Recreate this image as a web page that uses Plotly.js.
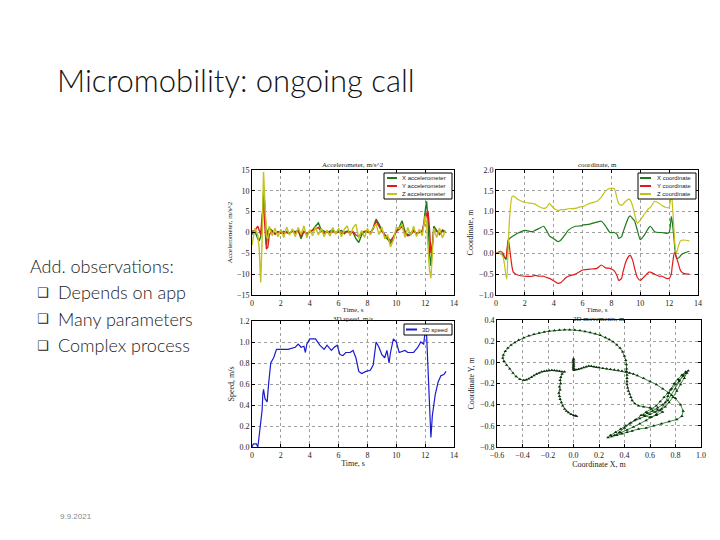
<!DOCTYPE html>
<html>
<head>
<meta charset="utf-8">
<script src="https://cdn.plot.ly/plotly-3.0.1.min.js"></script>
<style>html,body{margin:0;padding:0;background:#fff;}#chart{width:720px;height:540px;}</style>
</head>
<body>
<div id="chart"></div>
<script>
// ---------- Accelerometer (m/s^2) ----------
const accTime = [0,0.2,0.4,0.5,0.6,0.7,0.8,0.9,1.0,1.1, 1.2,1.4,1.6,1.8,2.0,2.2,2.4,2.6,2.8,3.0, 3.2,3.4,3.6,3.8,4.0,4.2,4.4,4.6,4.8,5.0, 5.2,5.4,5.6,5.8,6.0,6.2,6.4,6.6,6.8,7.0, 7.2,7.4,7.6,7.8,8.0,8.2,8.4,8.6,8.8,9.0, 9.2,9.4,9.6,9.8,10.0,10.2,10.4,10.6,10.8,11.0, 11.2,11.4,11.6,11.8,11.9,12.0,12.1,12.2,12.3,12.4, 12.5,12.6,12.8,13.0,13.2,13.4];
const accX = [-0.5,0.3,-1.5,-2,-1,1,10,6,-3,0.5, 1,0.5,-0.3,0.2,-0.2,0.3,0,-0.3,0.4,0.2, 0.5,-1.5,0.3,-0.5,0.2,0.6,1.5,2.3,0.6,0.3, 0,0.3,0.6,-0.2,0.2,0.5,-0.3,0.3,0.2,0, -1.5,-2.4,-0.6,0.2,0.3,-0.3,1.2,3.2,2,0.5, -0.8,-1.6,-2.6,-1.5,0.4,1.2,2.8,0.3,-0.6,-0.2, 0.5,-0.4,0.2,0.3,2,5,7.5,3,-5,-8, -2,1.5,0.5,-0.5,0.6,0.2];
const accY = [0.3,0.5,1.5,0.5,-0.5,4,7,1,-4,-3.5, -0.5,0.3,-0.4,0.2,0.1,-0.3,0.2,-0.2,0.3,-0.2, 0.4,-0.8,0.2,-0.3,0.1,0.4,0.8,1.2,0.3,-0.2, 0.3,-0.1,0.2,0,0.3,-0.2,0.1,0.3,-0.3,0.2, -0.6,-1,-0.2,0.3,0.2,0,0.8,2.8,1.5,0.2, -0.5,-1.2,-2,-1,0.2,0.8,1.5,-0.2,-0.8,-0.5, 0.3,-0.2,0,0.4,1.5,3,4.5,5,1,-5, -3,0.5,0.3,-0.4,0.3,0];
const accZ = [-3,1,-0.5,-4,-12,-2,14.5,6,-1,-1.5, 1.5,-0.8,1,-1,0.8,-1.2,1.3,-0.6,0.9,-1, 1.2,-0.5,1.6,-1.3,0.7,-0.8,1.4,-0.6,1,-1, 0.6,-0.9,1.2,-0.4,1,-1,0.8,1.6,-0.8,1.1, 2,-1.4,0.5,-1.2,1,-0.6,1.2,2,-0.5,1.3, -1.5,-0.5,-3.5,-1.8,1.2,1,2,-1.2,1.2,-0.8, 1.5,-1,0.8,-0.8,2,4,2,-4,-9,-11, -6,1,-1.2,1,-1.3,0.5];

// ---------- Coordinates (m) ----------
const coordTime = [0,0.3,0.5,0.6,0.7,0.75,0.85,0.95,1.1,1.2, 1.5,2.0,2.5,2.7,3.0,3.3,3.5,3.7,4.0,4.3, 4.5,4.8,5.0,5.5,5.9,6.0,6.5,7.0,7.3,7.6, 7.9,8.2,8.4,8.5,8.7,8.8,9.0,9.2,9.3,9.5, 9.6,9.8,10.0,10.3,10.6,10.7,11.0,11.3,11.5,11.8, 12.0,12.15,12.2,12.35,12.4,12.5,12.6,12.75,12.8,13.0, 13.4];
const coordX = [0,0.0,-0.05,-0.1,-0.15,-0.05,0.3,0.36,0.4,0.42, 0.48,0.55,0.52,0.55,0.6,0.65,0.55,0.42,0.35,0.28, 0.32,0.45,0.55,0.65,0.66,0.68,0.7,0.75,0.77,0.65, 0.5,0.5,0.45,0.36,0.4,0.5,0.7,0.87,0.9,0.82, 0.78,0.55,0.33,0.45,0.62,0.65,0.52,0.5,0.5,0.48, 0.5,0.88,0.8,0.3,0.1,-0.1,-0.12,-0.08,-0.05,0.0, 0.05];
const coordY = [0,0.05,0.0,-0.1,-0.1,0.05,0.35,0.1,-0.3,-0.45, -0.52,-0.55,-0.55,-0.53,-0.55,-0.55,-0.58,-0.6,-0.66,-0.72, -0.7,-0.6,-0.55,-0.5,-0.42,-0.4,-0.38,-0.36,-0.28,-0.35, -0.36,-0.42,-0.55,-0.65,-0.6,-0.45,-0.2,-0.07,-0.05,-0.2, -0.35,-0.58,-0.65,-0.55,-0.45,-0.45,-0.5,-0.55,-0.55,-0.6, -0.6,-0.5,-0.35,0.0,0.02,-0.1,-0.2,-0.38,-0.42,-0.48, -0.5];
const coordZ = [0,0.0,-0.1,-0.3,-0.55,-0.62,0.2,0.9,1.35,1.38, 1.3,1.22,1.2,1.18,1.12,1.08,1.1,1.2,1.08,1.03, 1.05,1.05,1.07,1.08,1.12,1.12,1.2,1.25,1.35,1.5, 1.56,1.55,1.3,1.2,1.15,1.18,1.25,1.3,1.28,1.1, 0.95,0.72,0.8,0.95,1.08,1.1,1.25,1.2,1.15,1.1, 1.1,1.45,1.3,0.5,0.2,0.0,0.12,0.28,0.3,0.32, 0.3];

// ---------- 3D speed (m/s) ----------
const speedTime = [0,0.1,0.3,0.4,0.45,0.6,0.7,0.75,0.8,0.9, 1.0,1.05,1.15,1.3,1.5,1.7,2.0,2.5,3.0,3.2, 3.4,3.6,3.7,3.8,4.0,4.4,4.7,5.0,5.2,5.5, 5.7,5.9,6.1,6.3,6.5,6.8,7.0,7.2,7.4,7.6, 7.9,8.2,8.4,8.6,8.8,9.0,9.2,9.35,9.5,9.6, 9.8,10.0,10.2,10.6,10.8,11.2,11.5,11.7,11.9,12.0, 12.1,12.25,12.35,12.4,12.5,12.7,12.9,13.1,13.3,13.45];
const speed = [0,0.03,0.03,0.0,0.05,0.2,0.35,0.5,0.55,0.46, 0.43,0.43,0.6,0.8,0.85,0.93,0.93,0.93,0.95,0.98, 0.95,0.96,0.9,0.98,1.03,1.03,0.97,0.93,0.97,0.92, 0.95,0.97,0.88,0.87,0.9,0.9,0.92,0.85,0.72,0.7, 0.72,0.73,0.78,1.0,0.95,0.88,0.85,0.92,0.8,0.9, 1.03,1.0,0.9,0.92,0.9,0.9,0.95,1.0,0.98,1.1, 1.07,0.6,0.15,0.09,0.3,0.5,0.62,0.68,0.69,0.72];

// ---------- 2D movements (m) ----------
const moveX = [0.0,0.002,-0.003,0.001,-0.002,0.002,-0.001,0.002,-0.002,0.001,0.0,0.003,
 0.02,0.04,0.06,0.08,0.1,0.12,0.14,0.16,0.18,0.2,0.23,0.26,0.29,0.32,0.35,0.38,0.41,0.44,0.47,0.5,
 0.55,0.6,0.65,0.7,0.75,0.8,0.84,0.86,0.85,0.81,0.75,0.69,0.63,0.57,0.51,0.46,
 0.42,0.38,0.34,0.3,0.27,0.29,0.33,0.37,0.41,0.45, 0.49,0.53,0.57,0.61,0.65,0.68,0.71,0.74,0.77,0.8, 0.83,0.86,0.88,0.9,0.88,0.85,0.82,0.79,0.76,0.74, 0.72,0.69,0.65,0.61,0.57,0.52,0.47,0.42,0.37,0.32, 0.36,0.4,0.44,0.48,0.52,0.56,0.6,0.64,0.68,0.72, 0.75,0.78,0.81,0.84,0.87,0.89,0.86,0.83,0.8,0.77, 0.74,0.7,0.66,0.62,0.58,0.55,0.6,0.65,0.7,0.66, 0.6,0.55,0.51,0.48,0.46,0.45,0.44,0.43,0.425,0.42, 0.42,0.42,0.42,0.418,0.417,
 0.415,0.41,0.4,0.385,0.365,0.34,0.31,0.28,0.25,0.21, 0.17,0.13,0.09,0.05,0.01,-0.03,-0.07,-0.11,-0.15,-0.19, -0.23,-0.27,-0.31,-0.35,-0.39,-0.43,-0.46,-0.49,-0.515,-0.535, -0.55,-0.555,-0.545,-0.525,-0.5,-0.475,-0.45,-0.42,-0.39,
 -0.37,-0.35,-0.33,-0.31,-0.29,-0.27,-0.25,-0.23,-0.21,-0.19,-0.17,-0.15,-0.13,-0.11,-0.09,-0.07,
 -0.09,-0.1,-0.105,-0.1,-0.11,-0.105,-0.115,-0.11,-0.105,-0.095,-0.085,-0.07,-0.055,-0.04,-0.02,0.0,0.015,0.025];
const moveY = [0.035,0.025,0.015,0.005,-0.005,-0.015,-0.025,-0.035,-0.045,-0.055,-0.065,-0.075,
 -0.07,-0.065,-0.058,-0.05,-0.042,-0.035,-0.038,-0.042,-0.047,-0.05,-0.055,-0.06,-0.066,-0.07,-0.075,-0.082,-0.09,-0.1,-0.11,-0.125,
 -0.15,-0.18,-0.21,-0.25,-0.29,-0.34,-0.4,-0.46,-0.51,-0.54,-0.56,-0.58,-0.6,-0.62,-0.63,-0.65,
 -0.66,-0.675,-0.69,-0.7,-0.71,-0.69,-0.66,-0.63,-0.6,-0.57, -0.54,-0.5,-0.47,-0.44,-0.41,-0.37,-0.33,-0.29,-0.25,-0.21, -0.17,-0.13,-0.1,-0.08,-0.09,-0.12,-0.16,-0.2,-0.26,-0.32, -0.38,-0.44,-0.49,-0.52,-0.55,-0.58,-0.61,-0.64,-0.665,-0.69, -0.66,-0.62,-0.58,-0.55,-0.53,-0.51,-0.49,-0.47,-0.45,-0.42, -0.38,-0.33,-0.27,-0.21,-0.15,-0.1,-0.12,-0.18,-0.25,-0.31, -0.36,-0.4,-0.43,-0.46,-0.48,-0.5,-0.52,-0.5,-0.47,-0.45, -0.43,-0.42,-0.41,-0.39,-0.36,-0.33,-0.3,-0.27,-0.24,-0.21, -0.18,-0.15,-0.12,-0.09,-0.06,
 -0.02,0.02,0.06,0.1,0.135,0.165,0.195,0.215,0.235,0.255, 0.27,0.283,0.292,0.3,0.305,0.307,0.307,0.305,0.3,0.295, 0.287,0.277,0.265,0.25,0.232,0.21,0.188,0.163,0.135,0.105, 0.07,0.04,0.01,-0.025,-0.06,-0.1,-0.135,-0.16,-0.17,
 -0.165,-0.155,-0.14,-0.125,-0.11,-0.1,-0.09,-0.085,-0.08,-0.078,-0.075,-0.077,-0.08,-0.085,-0.09,-0.09,
 -0.11,-0.14,-0.17,-0.2,-0.23,-0.26,-0.29,-0.32,-0.35,-0.38,-0.41,-0.44,-0.46,-0.475,-0.49,-0.5,-0.505,-0.51];

// ---------- Text ----------
const slideTitle = "Micromobility: ongoing call";
const bulletHead = "Add. observations:";
const bullets = ["Depends on app", "Many parameters", "Complex process"];
const dateText = "9.9.2021";
const accNames = ["X accelerometer", "Y accelerometer", "Z accelerometer"];
const coordNames = ["X coordinate", "Y coordinate", "Z coordinate"];
const speedName = "3D speed";
const panelTitles = ["Accelerometer, m/s^2", "coordinate, m", "3D speed, m/s", "2D movements, m"];

const cGreen = '#1b7a1b', cRed = '#e01a1a', cYellow = '#c2c21a', cBlue = '#1a1ad0';

const P = px => px / 720;
const Q = py => 1 - py / 540;
const serif = 'Liberation Serif, Times New Roman, serif';

const common = {
  showline: true, linecolor: '#000', linewidth: 1, mirror: 'ticks',
  ticks: 'inside', ticklen: 3, tickcolor: '#000',
  showgrid: true, gridcolor: '#777', griddash: 'dot', gridwidth: 0.7,
  zeroline: false, automargin: false,
  tickfont: {family: serif, size: 8, color: '#222'}
};
const ax = o => Object.assign({}, common, o);
const tfont = {family: serif, size: 8, color: '#222'};
const tfontS = {family: serif, size: 7, color: '#222'};

const data = [
  {x: accTime, y: accX, xaxis: 'x', yaxis: 'y', mode: 'lines', name: accNames[0], line: {color: cGreen, width: 1.4}},
  {x: accTime, y: accY, xaxis: 'x', yaxis: 'y', mode: 'lines', name: accNames[1], line: {color: cRed, width: 1.4}},
  {x: accTime, y: accZ, xaxis: 'x', yaxis: 'y', mode: 'lines', name: accNames[2], line: {color: cYellow, width: 1.4}},
  {x: coordTime, y: coordX, xaxis: 'x2', yaxis: 'y2', mode: 'lines', name: coordNames[0], line: {color: cGreen, width: 1.2, shape: 'spline', smoothing: 0.6}},
  {x: coordTime, y: coordY, xaxis: 'x2', yaxis: 'y2', mode: 'lines', name: coordNames[1], line: {color: cRed, width: 1.2, shape: 'spline', smoothing: 0.6}},
  {x: coordTime, y: coordZ, xaxis: 'x2', yaxis: 'y2', mode: 'lines', name: coordNames[2], line: {color: cYellow, width: 1.2, shape: 'spline', smoothing: 0.6}},
  {x: speedTime, y: speed, xaxis: 'x3', yaxis: 'y3', mode: 'lines', name: speedName, line: {color: cBlue, width: 1.2}},
  {x: moveX, y: moveY, xaxis: 'x4', yaxis: 'y4', mode: 'lines+markers', name: '2D', line: {color: '#3c8c3c', width: 1},
   marker: {symbol: 'triangle-up', size: 3, color: '#102a10'}}
];

const yTop = [Q(295), Q(170)];
const layout = {
  width: 720, height: 540, margin: {l: 0, r: 0, t: 0, b: 0},
  paper_bgcolor: '#fff', plot_bgcolor: '#fff', showlegend: false,
  xaxis: ax({domain: [P(252), P(454)], anchor: 'y', range: [0, 14], dtick: 2,
    title: {text: 'Time, s', font: tfontS, standoff: 0}}),
  yaxis: ax({domain: yTop, anchor: 'x', range: [-15, 15], dtick: 5,
    title: {text: 'Accelerometer, m/s^2', font: tfontS, standoff: 3}}),
  xaxis2: ax({domain: [P(496), P(698)], anchor: 'y2', range: [0, 14], dtick: 2,
    title: {text: 'Time, s', font: tfontS, standoff: 0}}),
  yaxis2: ax({domain: yTop, anchor: 'x2', range: [-1, 2], dtick: 0.5, tickformat: '.1f',
    title: {text: 'Coordinate, m', font: tfont, standoff: 4}}),
  xaxis3: ax({domain: [P(252), P(454)], anchor: 'y3', range: [0, 14], dtick: 2,
    title: {text: 'Time, s', font: tfont, standoff: 1}}),
  yaxis3: ax({domain: [Q(447), Q(321)], anchor: 'x3', range: [0, 1.2], dtick: 0.2, tickformat: '.1f',
    title: {text: 'Speed, m/s', font: tfont, standoff: 3}}),
  xaxis4: ax({domain: [P(497), P(701)], anchor: 'y4', range: [-0.6, 1.0], dtick: 0.2, tickformat: '.1f',
    title: {text: 'Coordinate X, m', font: tfont, standoff: 0}}),
  yaxis4: ax({domain: [Q(447), Q(320)], anchor: 'x4', range: [-0.8, 0.4], dtick: 0.2, tickformat: '.1f',
    title: {text: 'Coordinate Y, m', font: tfont, standoff: 4}}),
  annotations: [],
  shapes: []
};

const A = (text, px, py, opts) => layout.annotations.push(Object.assign({
  text, xref: 'paper', yref: 'paper', x: P(px), y: Q(py), showarrow: false,
  xanchor: 'left', yanchor: 'middle'
}, opts || {}));

// Slide texts
A(slideTitle, 55, 80, {font: {family: 'Lato, sans-serif', size: 31, weight: 300, color: '#111'}});
A(bulletHead, 28, 266, {font: {family: 'Lato, sans-serif', size: 18, weight: 300, color: '#222'}});
bullets.forEach((b, i) => {
  const py = 292 + i * 26.5;
  A('\u2751', 35, py, {font: {family: 'DejaVu Sans', size: 13, color: '#222'}});
  A(b, 56, py, {font: {family: 'Lato, sans-serif', size: 18, weight: 300, color: '#222'}});
});
A(dateText, 58, 516, {font: {family: 'Liberation Sans, sans-serif', size: 8, color: '#888'}});

// Panel titles
A(panelTitles[0], 353, 165, {xanchor: 'center', font: tfontS});
A(panelTitles[1], 597, 165, {xanchor: 'center', font: tfontS});
A(panelTitles[2], 353, 318.5, {xanchor: 'center', font: tfontS});
A(panelTitles[3], 599, 318.5, {xanchor: 'center', font: tfontS});

// Legends (drawn as boxes with samples)
const legendBox = (x0, y0, x1, y1) => layout.shapes.push({type: 'rect', xref: 'paper', yref: 'paper',
  x0: P(x0), x1: P(x1), y0: Q(y1), y1: Q(y0), line: {color: '#000', width: 1}, fillcolor: '#fff', layer: 'above'});
const legendItem = (name, color, lx0, lx1, tx, py) => {
  layout.shapes.push({type: 'line', xref: 'paper', yref: 'paper', x0: P(lx0), x1: P(lx1), y0: Q(py), y1: Q(py),
    line: {color, width: 2}, layer: 'above'});
  A(name, tx, py, {font: {family: 'Liberation Sans, sans-serif', size: 6, color: '#222'}});
};
legendBox(384, 173, 452, 199);
[cGreen, cRed, cYellow].forEach((c, i) => legendItem(accNames[i], c, 387, 397, 400, 178 + i * 8));
legendBox(638, 173, 696, 199);
[cGreen, cRed, cYellow].forEach((c, i) => legendItem(coordNames[i], c, 640, 651, 655, 178 + i * 8));
legendBox(404, 324, 452, 335);
legendItem(speedName, cBlue, 406, 417, 420, 329.5);

Plotly.newPlot('chart', data, layout, {staticPlot: true, displayModeBar: false});
</script>
</body>
</html>
